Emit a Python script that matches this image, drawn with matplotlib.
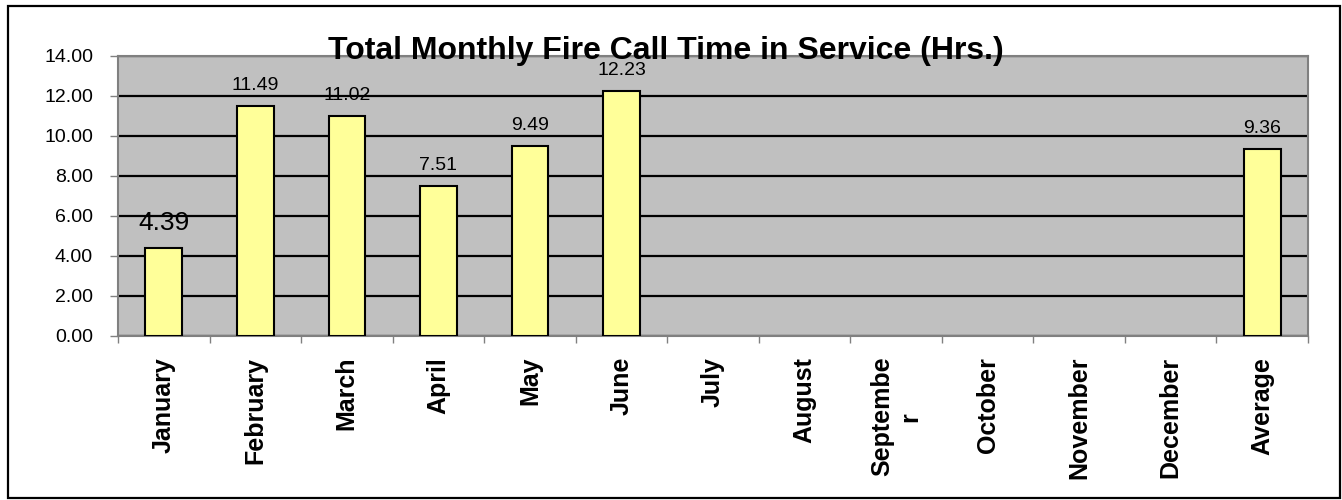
import matplotlib
matplotlib.use("Agg")
import matplotlib.pyplot as plt
from matplotlib.patches import Rectangle
import numpy as np

categories = ["January", "February", "March", "April", "May", "June", "July",
              "August", "Septembe\nr", "October", "November", "December", "Average"]
values = [4.39, 11.49, 11.02, 7.51, 9.49, 12.23, None, None, None, None, None, None, 9.36]
labels = ["4.39", "11.49", "11.02", "7.51", "9.49", "12.23", "", "", "", "", "", "", "9.36"]
yticks = [0, 2, 4, 6, 8, 10, 12, 14]
title = "Total Monthly Fire Call Time in Service (Hrs.)"

plt.rcParams['font.family'] = ['Liberation Sans', 'DejaVu Sans']

W, H = 1342, 500
fig = plt.figure(figsize=(W / 100, H / 100), dpi=100)
fig.patch.set_facecolor("white")

ax = fig.add_axes([118 / W, 1 - 336 / H, (1308 - 118) / W, (336 - 56) / H])
ax.set_facecolor("#C0C0C0")

x = np.arange(len(categories))
for xi, v in zip(x, values):
    if v is None:
        continue
    ax.bar(xi, v, width=0.40, color="#FFFF99", edgecolor="black", linewidth=1.5, zorder=3)

ax.set_xlim(-0.5, len(categories) - 0.5)
ax.set_ylim(0, 14)

ax.set_yticks(yticks)
ax.set_yticklabels([f"{t:.2f}" for t in yticks], fontsize=14)
ax.yaxis.grid(True, color="black", linewidth=1.6, zorder=1)
ax.set_axisbelow(True)

ax.set_xticks(x)
ax.set_xticklabels(categories, fontsize=18, fontweight="bold")
for t in ax.get_xticklabels():
    t.set_rotation(90)
    t.set_rotation_mode("anchor")
    t.set_ha("right")
    t.set_va("center")
    t.set_multialignment("center")
ax.set_xticks(np.arange(-0.5, len(categories), 1.0), minor=True)
ax.tick_params(axis="x", which="major", length=0, pad=15)
ax.tick_params(axis="x", which="minor", length=5, width=1, color="#808080")
ax.tick_params(axis="y", which="major", length=6, width=1, color="#808080", pad=12)

for s in ["top", "right", "left", "bottom"]:
    ax.spines[s].set_color("#808080")
    ax.spines[s].set_linewidth(1.5)

for xi, v, lab in zip(x, values, labels):
    if v is None:
        continue
    if lab == "4.39":
        ax.annotate(lab, (xi, v), xytext=(0, 13), textcoords="offset points",
                    ha="center", va="baseline", fontsize=19, zorder=4)
    else:
        ax.annotate(lab, (xi, v), xytext=(0, 11.5), textcoords="offset points",
                    ha="center", va="baseline", fontsize=14, zorder=4)

fig.text(666 / W, 1 - 59 / H, title, ha="center", va="baseline",
         fontsize=23, fontweight="bold")

fig.patches.append(Rectangle((8 / W, 1 - 498 / H), (1340 - 8) / W, (498 - 6) / H,
                             transform=fig.transFigure, fill=False,
                             edgecolor="black", linewidth=1.6))

fig.savefig("out.png", dpi=100)
